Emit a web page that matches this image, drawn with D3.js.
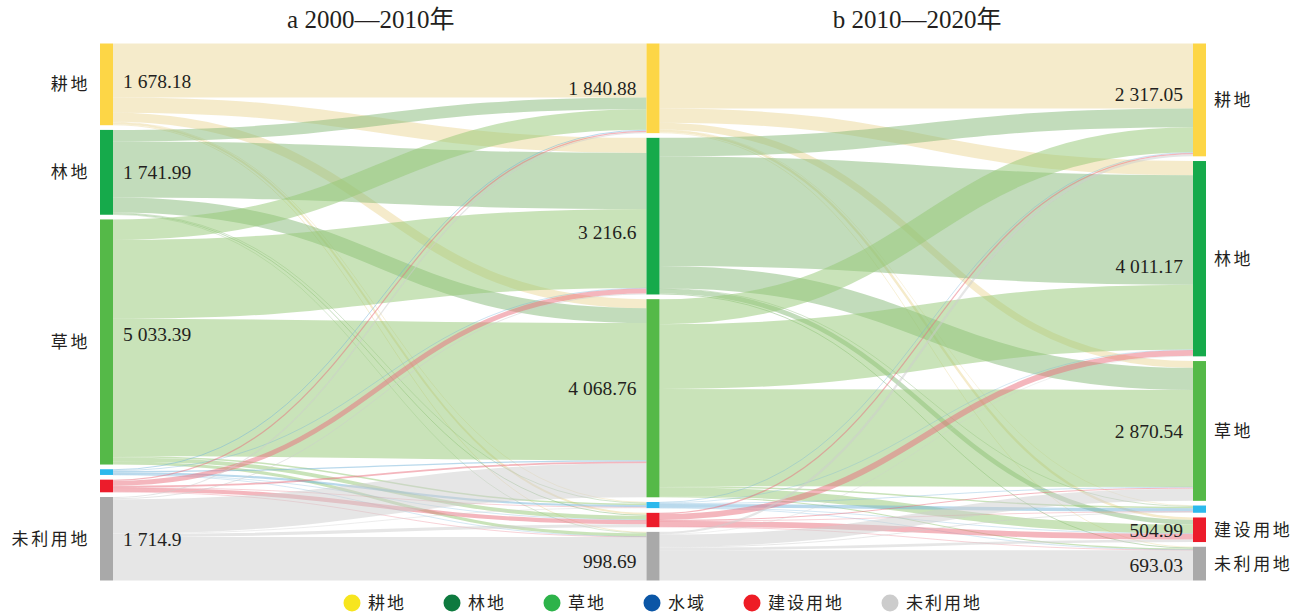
<!DOCTYPE html>
<html>
<head>
<meta charset="utf-8">
<script src="https://cdn.jsdelivr.net/npm/d3@7"></script>
<style>
body { margin: 0; background: #fff; }
svg text { fill: #231f20; }
.num { font-family: "Liberation Serif", "Times New Roman", "Noto Sans CJK SC", serif; }
.cn { font-family: "Noto Sans CJK SC", sans-serif; }
</style>
</head>
<body>
<svg id="chart" width="1309" height="614"></svg>
<script>
// land use classes, same order in every column
var classes = ["耕地", "林地", "草地", "水域", "建设用地", "未利用地"];
var panelTitles = ["a 2000—2010年", "b 2010—2020年"];

// area of each class (node values)
var area2000 = [1678.18, 1741.99, 5033.39, 117.2, 259.8, 1714.9];
var area2010 = [1840.88, 3216.6, 4068.76, 126.23, 294.3, 998.69];
var area2020 = [2317.05, 4011.17, 2870.54, 148.68, 504.99, 693.03];

// transfer matrices: row = from class, column = to class
var flow2000to2010 = [
  [1110, 310, 185, 15, 40, 18.18],
  [240, 1150, 305, 15, 20, 11.99],
  [420, 1621.24, 2818.76, 30, 80, 63.39],
  [20, 15, 25, 45, 7, 5.2],
  [25, 100, 35, 6, 85, 8.8],
  [25.88, 20.36, 700, 15.23, 62.3, 891.13]
];
var flow2010to2020 = [
  [1335, 290, 140, 10, 50, 15.88],
  [384, 2250, 452.6, 15, 95, 20],
  [513, 1331.17, 1992.94, 30, 179.99, 21.66],
  [15, 10, 15, 70, 10, 6.23],
  [25, 120, 20, 5, 115, 9.3],
  [45.05, 10, 250, 18.68, 55, 619.96]
];

// colours
var nodeColors = ["#fdd646", "#16aa4b", "#55b948", "#2cb9ec", "#ec1c2b", "#a9a9a9"];
var linkColors = ["#ebd797", "#85b977", "#93c773", "#73b3d9", "#e96d7b", "#cdcdcd"];
var legendColors = ["#f7e51e", "#0e7a3f", "#2db34a", "#0b56a6", "#ee1c25", "#cccccc"];

(function () {
  var svg = d3.select("#chart");
  var yTop = 43.5, yBottom = 580.5, pad = 4.7, nodeW = 13;
  var columns = [area2000, area2010, area2020];
  var matrices = [flow2000to2010, flow2010to2020];

  var x = d3.scaleLinear().domain([0, 2]).range([100, 1193]);
  var total = d3.max(columns, function (c) { return d3.sum(c); });
  var h = d3.scaleLinear().domain([0, total]).range([0, yBottom - yTop - pad * (classes.length - 1)]);
  var fmt = d3.formatLocale({ decimal: ".", thousands: " ", grouping: [3], currency: ["", ""] }).format(",.2~f");

  // node layout
  var nodes = columns.map(function (vals, c) {
    var y = yTop;
    return vals.map(function (v, i) {
      var n = { col: c, idx: i, value: v, x0: x(c), x1: x(c) + nodeW, y0: y, y1: y + h(v) };
      y = n.y1 + pad;
      return n;
    });
  });

  // link layout
  var links = [];
  matrices.forEach(function (m, c) {
    var outOff = nodes[c].map(function (n) { return n.y0; });
    var inOff = nodes[c + 1].map(function (n) { return n.y0; });
    var ls = [];
    m.forEach(function (row, i) {
      row.forEach(function (v, j) {
        ls.push({ s: nodes[c][i], t: nodes[c + 1][j], value: v, width: h(v) });
      });
    });
    // source side ordered by target, target side ordered by source
    ls.forEach(function (l) {
      l.y0 = outOff[l.s.idx] + l.width / 2;
      outOff[l.s.idx] += l.width;
    });
    ls.slice().sort(function (a, b) { return a.t.idx - b.t.idx || a.s.idx - b.s.idx; })
      .forEach(function (l) {
        l.y1 = inOff[l.t.idx] + l.width / 2;
        inOff[l.t.idx] += l.width;
      });
    links = links.concat(ls);
  });

  var linkPath = d3.linkHorizontal()
    .source(function (d) { return [d.s.x1, d.y0]; })
    .target(function (d) { return [d.t.x0, d.y1]; });

  svg.append("g")
    .attr("fill", "none")
    .selectAll("path")
    .data(links)
    .enter()
    .append("path")
    .attr("d", linkPath)
    .attr("stroke", function (d) { return linkColors[d.s.idx]; })
    .attr("stroke-opacity", 0.5)
    .attr("stroke-width", function (d) { return Math.max(0.6, d.width); });

  var allNodes = d3.merge(nodes);
  svg.append("g")
    .selectAll("rect")
    .data(allNodes)
    .enter()
    .append("rect")
    .attr("x", function (d) { return d.x0; })
    .attr("y", function (d) { return d.y0; })
    .attr("width", nodeW)
    .attr("height", function (d) { return d.y1 - d.y0; })
    .attr("fill", function (d) { return nodeColors[d.idx]; });

  // only the larger classes carry labels
  var labelled = allNodes.filter(function (d) { return d.value >= 300; });
  // small vertical nudges used in the original to keep labels off crossing bands
  var valueShift = { "0-0": -3, "0-2": -8, "1-1": 16, "1-2": -10, "1-5": 5, "2-0": -6, "2-1": 7, "2-5": 2 };

  svg.append("g")
    .attr("class", "num")
    .style("font-size", "19.5px")
    .selectAll("text")
    .data(labelled)
    .enter()
    .append("text")
    .attr("x", function (d) { return d.col === 0 ? d.x1 + 10 : d.x0 - 10; })
    .attr("y", function (d) { return (d.y0 + d.y1) / 2 + (valueShift[d.col + "-" + d.idx] || 0); })
    .attr("dy", "0.35em")
    .attr("text-anchor", function (d) { return d.col === 0 ? "start" : "end"; })
    .text(function (d) { return fmt(d.value); });

  svg.append("g")
    .attr("class", "cn")
    .style("font-size", "17px")
    .style("letter-spacing", "2.6px")
    .selectAll("text")
    .data(labelled.filter(function (d) { return d.col !== 1; }))
    .enter()
    .append("text")
    .attr("x", function (d) { return d.col === 0 ? d.x0 - 10 : d.x1 + 8; })
    .attr("y", function (d) { return (d.y0 + d.y1) / 2; })
    .attr("dy", "0.35em")
    .attr("text-anchor", function (d) { return d.col === 0 ? "end" : "start"; })
    .text(function (d) { return classes[d.idx]; });

  // panel titles
  svg.append("g")
    .attr("class", "num")
    .style("font-size", "25px")
    .selectAll("text")
    .data(panelTitles)
    .enter()
    .append("text")
    .attr("x", function (d, i) { return (x(i) + x(i + 1) + nodeW) / 2 - 9; })
    .attr("y", 28)
    .attr("text-anchor", "middle")
    .text(function (d) { return d; });

  // legend
  var legend = svg.append("g").attr("class", "cn").style("font-size", "17px").style("letter-spacing", "2px");
  var lx = 352;
  classes.forEach(function (c, i) {
    legend.append("circle").attr("cx", lx).attr("cy", 603).attr("r", 8.5).attr("fill", legendColors[i]);
    var t = legend.append("text").attr("x", lx + 16).attr("y", 603).attr("dy", "0.35em").text(c);
    lx = lx + 16 + t.node().getComputedTextLength() + 46;
  });
})();
</script>
</body>
</html>
